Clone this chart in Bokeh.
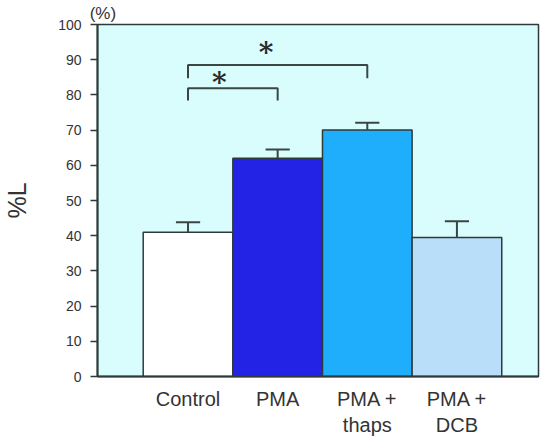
from bokeh.plotting import figure
from bokeh.models import Range1d, FixedTicker, LinearAxis
from bokeh.core.properties import value
from bokeh.embed import file_html
from bokeh.resources import INLINE

# Group means and SEM (%L)
categories = ["Control", "PMA", "PMA +\nthaps", "PMA +\nDCB"]
means = [41.0, 62.0, 70.0, 39.5]
errors = [2.8, 2.5, 2.1, 4.6]
bar_colors = ["#ffffff", "#2323e6", "#1eaefc", "#b8def9"]

# Significance brackets: (left group, right group, bracket top, leg bottom)
brackets = [(1, 2, 81.9, 78.4), (1, 3, 88.5, 84.7)]
star_x = [1.35, 1.87]
star_y = [85.6, 94.1]

y_ticks = list(range(0, 101, 10))
xs = [i + 1 for i in range(len(categories))]

FONT = "Liberation Sans"
DARK = "#2e3a3a"

p = figure(width=545, height=438, output_backend="svg", toolbar_location=None,
           x_range=Range1d(-0.01, 4.91), y_range=Range1d(0, 100),
           min_border_left=97, min_border_right=7, min_border_top=24,
           min_border_bottom=59)
p.background_fill_color = "#d9fcfc"
p.border_fill_color = "#ffffff"
p.outline_line_color = DARK
p.outline_line_width = 1.5
p.grid.visible = False

# Bars
p.vbar(x=xs, top=means, width=1.0, bottom=0, fill_color=bar_colors,
       line_color=DARK, line_width=1.5)

# Upper error bars with caps
tops = [m + e for m, e in zip(means, errors)]
cap = 0.135
p.segment(x0=xs, y0=means, x1=xs, y1=tops, line_color="#3a4646", line_width=2)
p.segment(x0=[x - cap for x in xs], y0=tops, x1=[x + cap for x in xs], y1=tops,
          line_color="#3a4646", line_width=2)

# Significance brackets
for a, b, top, leg in brackets:
    p.line(x=[a, a, b, b], y=[leg, top, top, leg], line_color="#3a4646", line_width=2)
p.text(x=star_x, y=star_y, text=["*", "*"], text_font=value("DejaVu Serif"),
       text_font_size="28px", text_font_style="bold", text_align="center",
       text_baseline="middle", text_color="#2a2a2a", y_offset=7)

# Axes
p.yaxis.ticker = FixedTicker(ticks=y_ticks)
p.yaxis.major_label_text_font = FONT
p.yaxis.major_label_text_font_size = "14px"
p.yaxis.major_label_text_color = "#333333"
p.yaxis.major_tick_out = 7
p.yaxis.major_tick_in = 0
p.yaxis.minor_tick_out = 0
p.yaxis.minor_tick_in = 0
p.yaxis.major_label_standoff = 9
p.yaxis.axis_line_width = 2
p.yaxis.axis_line_color = DARK
p.yaxis.major_tick_line_color = DARK
p.yaxis.major_tick_line_width = 1.5
p.yaxis.axis_label = "%L"
p.yaxis.axis_label_text_font = FONT
p.yaxis.axis_label_text_font_size = "25px"
p.yaxis.axis_label_text_font_style = "normal"
p.yaxis.axis_label_text_color = "#333333"
p.yaxis.axis_label_standoff = 24

p.xaxis.ticker = FixedTicker(ticks=xs)
p.xaxis.major_label_overrides = {x: c for x, c in zip(xs, categories)}
p.xaxis.major_label_text_font = FONT
p.xaxis.major_label_text_font_size = "20px"
p.xaxis.major_label_text_color = "#333333"
p.xaxis.major_tick_out = 0
p.xaxis.major_tick_in = 0
p.xaxis.minor_tick_out = 0
p.xaxis.minor_tick_in = 0
p.xaxis.major_label_standoff = 11
p.xaxis.axis_line_width = 2
p.xaxis.axis_line_color = DARK

# Unit note "(%)" just above the top-left corner, carried by a bare top axis
unit_axis = LinearAxis(ticker=FixedTicker(ticks=[0.05]),
                       major_label_overrides={0.05: "(%)"},
                       axis_line_color=None, major_tick_line_color=None,
                       minor_tick_line_color=None,
                       major_tick_out=0, major_tick_in=0,
                       minor_tick_out=0, minor_tick_in=0,
                       major_label_standoff=2,
                       major_label_text_font=FONT, major_label_text_font_size="17px",
                       major_label_text_color="#333333")
p.add_layout(unit_axis, "above")

open("out.html", "w").write(file_html(p, INLINE))
